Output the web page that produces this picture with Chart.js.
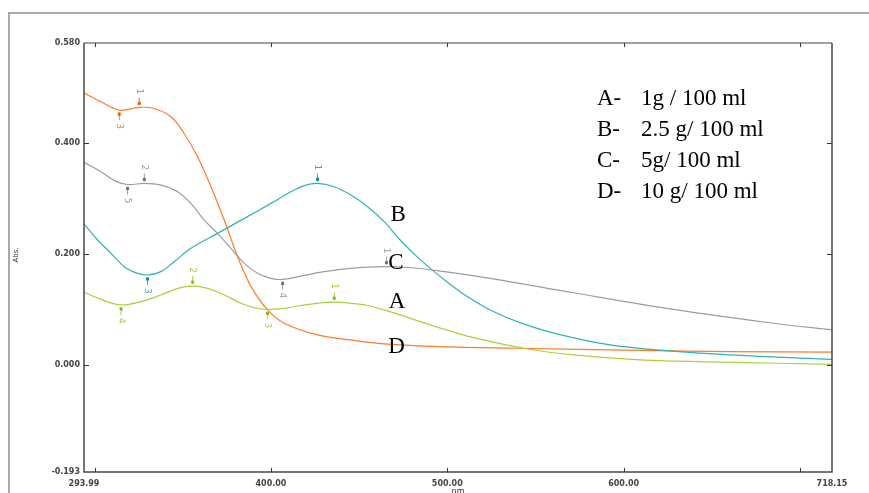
<!DOCTYPE html>
<html lang="en">
<head>
    <meta charset="UTF-8">
    <title>Absorbance spectra</title>
    <style>
        body {
            margin: 0;
            padding: 0;
            background: #fff;
        }
        canvas {
            display: block;
        }
    </style>
</head>
<body>
    <canvas id="spectra" width="869" height="493"></canvas>

    <script src="https://cdn.jsdelivr.net/npm/chart.js"></script>
    <script>
        // A - 1g / 100 ml (green)
        const waveA = [293.99, 303.6, 315, 326.3, 337.6, 347.1, 355.6, 364.1, 373.5, 383, 390.5, 398.1, 407.5, 417, 426.4, 435.9, 445.3, 454.8, 464.2, 473.3, 488.4, 501.7, 514.9, 543.2, 571.5, 609.4, 656.6, 718.15];
        const absA = [0.131, 0.118, 0.108, 0.114, 0.126, 0.138, 0.142, 0.138, 0.126, 0.111, 0.103, 0.100, 0.102, 0.107, 0.111, 0.113, 0.111, 0.107, 0.099, 0.090, 0.074, 0.061, 0.049, 0.030, 0.018, 0.009, 0.005, 0.001];

        // B - 2.5 g/ 100 ml (teal)
        const waveB = [293.99, 301.7, 309.3, 316.8, 324.4, 330, 337.6, 345.2, 354.6, 369.7, 384.9, 400, 411.3, 418.9, 426.4, 435.9, 445.3, 454.8, 464.2, 473.3, 482.8, 492.2, 501.7, 510, 524.3, 543.2, 562.1, 590.5, 618.8, 666, 718.15];
        const absB = [0.254, 0.225, 0.201, 0.177, 0.165, 0.162, 0.168, 0.186, 0.210, 0.237, 0.264, 0.291, 0.312, 0.323, 0.327, 0.321, 0.306, 0.285, 0.258, 0.225, 0.195, 0.169, 0.145, 0.126, 0.099, 0.074, 0.056, 0.037, 0.027, 0.017, 0.010];

        // C - 5g/ 100 ml (grey)
        const waveC = [293.99, 303.6, 311.2, 318.7, 328.2, 337.6, 347.1, 354.6, 362.2, 369.7, 377.3, 384.9, 392.4, 400, 406.6, 417, 430.2, 445.3, 464.2, 480, 496, 524.3, 571.5, 628.2, 684.9, 718.15];
        const absC = [0.365, 0.348, 0.332, 0.325, 0.327, 0.324, 0.312, 0.291, 0.261, 0.237, 0.210, 0.183, 0.165, 0.156, 0.154, 0.160, 0.168, 0.174, 0.177, 0.175, 0.169, 0.156, 0.130, 0.100, 0.075, 0.063];

        // D - 10 g/ 100 ml (orange)
        const waveD = [293.99, 303.6, 314, 325.3, 333.8, 343.3, 350.8, 358.4, 366, 373.5, 381.1, 388.7, 398.1, 407.5, 426.4, 445.3, 464.2, 496, 540, 609.4, 660, 718.15];
        const absD = [0.490, 0.474, 0.459, 0.464, 0.462, 0.447, 0.417, 0.375, 0.321, 0.261, 0.195, 0.141, 0.099, 0.075, 0.054, 0.045, 0.038, 0.033, 0.030, 0.026, 0.024, 0.023];

        // peak / valley picks: wavelength, absorbance, number, side (-1 above, 1 below)
        const pickWaveA = [435.9, 355.6, 398.1, 315];
        const pickAbsA = [0.113, 0.142, 0.100, 0.108];
        const pickNumA = ['1', '2', '3', '4'];
        const pickSideA = [-1, -1, 1, 1];

        const pickWaveB = [426.4, 330];
        const pickAbsB = [0.327, 0.162];
        const pickNumB = ['1', '3'];
        const pickSideB = [-1, 1];

        const pickWaveC = [465.5, 328.2, 406.6, 318.7];
        const pickAbsC = [0.177, 0.327, 0.154, 0.325];
        const pickNumC = ['1', '2', '4', '5'];
        const pickSideC = [-1, -1, 1, 1];

        const pickWaveD = [325.3, 314];
        const pickAbsD = [0.464, 0.459];
        const pickNumD = ['1', '3'];
        const pickSideD = [-1, 1];

        const xTicks = [293.99, 400, 500, 600, 718.15];
        const yTicks = [-0.193, 0, 0.2, 0.4, 0.58];
        const xMarks = [300, 400, 500, 600, 700];
        const yMarks = [0, 0.2, 0.4];

        const legendKeys = ['A-', 'B-', 'C-', 'D-'];
        const legendTexts = ['1g / 100 ml', '2.5 g/ 100 ml', '5g/ 100 ml', '10 g/ 100 ml'];

        // curve letters, anchored at wavelength / absorbance
        const curveLetters = ['A', 'B', 'C', 'D'];
        const letterWave = [471.5, 472.2, 470.9, 471.2];
        const letterAbs = [0.117, 0.274, 0.187, 0.036];

        const colorA = '#a9d13c';
        const colorB = '#31b2b2';
        const colorC = '#9c9c9c';
        const colorD = '#ff7b2c';

        function toPoints(xs, ys) {
            return xs.map((x, i) => ({ x: x, y: ys[i] }));
        }

        function lineSet(label, xs, ys, color) {
            return {
                label: label,
                data: toPoints(xs, ys),
                borderColor: color,
                borderWidth: 1.2,
                pointRadius: 0,
                tension: 0.35,
                fill: false
            };
        }

        const pickSets = [
            { wave: pickWaveA, abs: pickAbsA, num: pickNumA, side: pickSideA, color: colorA, dot: '#86b51a' },
            { wave: pickWaveB, abs: pickAbsB, num: pickNumB, side: pickSideB, color: colorB, dot: '#138e8e' },
            { wave: pickWaveC, abs: pickAbsC, num: pickNumC, side: pickSideC, color: colorC, dot: '#707070' },
            { wave: pickWaveD, abs: pickAbsD, num: pickNumD, side: pickSideD, color: colorD, dot: '#e85a00' }
        ];

        const decorPlugin = {
            id: 'decor',
            beforeDraw(chart) {
                const c = chart.ctx;
                c.save();
                c.fillStyle = '#fff';
                c.fillRect(0, 0, chart.width, chart.height);
                // outer page frame
                c.strokeStyle = '#a9a9a9';
                c.lineWidth = 2;
                c.strokeRect(9, 13, chart.width + 20, chart.height + 20);
                c.restore();
            },
            afterDraw(chart) {
                const c = chart.ctx;
                const a = chart.chartArea;
                const xs = chart.scales.x;
                const ys = chart.scales.y;
                c.save();

                // plot frame
                c.lineWidth = 2;
                c.strokeStyle = '#a0a0a0';
                c.beginPath();
                c.moveTo(a.left, a.top);
                c.lineTo(a.right, a.top);
                c.stroke();
                c.lineWidth = 1.5;
                c.strokeStyle = '#4a4a4a';
                c.beginPath();
                c.moveTo(a.left, a.top);
                c.lineTo(a.left, a.bottom);
                c.lineTo(a.right, a.bottom);
                c.lineTo(a.right, a.top);
                c.stroke();

                // inward tick marks
                c.lineWidth = 1;
                c.strokeStyle = '#333';
                c.beginPath();
                xMarks.forEach(v => {
                    const px = Math.round(xs.getPixelForValue(v)) + 0.5;
                    c.moveTo(px, a.bottom);
                    c.lineTo(px, a.bottom - 4);
                    c.moveTo(px, a.top);
                    c.lineTo(px, a.top + 4);
                });
                yMarks.forEach(v => {
                    const py = Math.round(ys.getPixelForValue(v)) + 0.5;
                    c.moveTo(a.left, py);
                    c.lineTo(a.left + 5, py);
                    c.moveTo(a.right, py);
                    c.lineTo(a.right - 5, py);
                });
                c.stroke();

                // axis titles
                c.fillStyle = '#333';
                c.font = '7px "DejaVu Sans"';
                c.textAlign = 'center';
                c.textBaseline = 'middle';
                c.save();
                c.translate(16, 255);
                c.rotate(-Math.PI / 2);
                c.fillText('Abs.', 0, 0);
                c.restore();
                c.font = '8px "DejaVu Sans"';
                c.fillText('nm', (a.left + a.right) / 2, 492);

                // peak picks
                c.font = '9px "DejaVu Sans"';
                pickSets.forEach(s => {
                    s.wave.forEach((w, i) => {
                        const px = xs.getPixelForValue(w);
                        const py = ys.getPixelForValue(s.abs[i]);
                        const d = s.side[i];
                        c.strokeStyle = s.color;
                        c.lineWidth = 1;
                        c.beginPath();
                        c.moveTo(px, py + d * 2);
                        c.lineTo(px, py + d * 10);
                        c.stroke();
                        c.fillStyle = s.dot;
                        c.fillRect(px - 1.5, py + d * 4 - 1.5, 3, 3);
                        c.fillStyle = s.color;
                        c.save();
                        c.translate(px, py + d * 16);
                        c.rotate(Math.PI / 2);
                        c.textAlign = 'center';
                        c.textBaseline = 'middle';
                        c.fillText(s.num[i], 0, 0);
                        c.restore();
                    });
                });

                // curve letters
                c.fillStyle = '#000';
                c.font = '23px "Liberation Serif"';
                c.textAlign = 'center';
                c.textBaseline = 'alphabetic';
                curveLetters.forEach((t, i) => {
                    c.fillText(t, xs.getPixelForValue(letterWave[i]), ys.getPixelForValue(letterAbs[i]) + 8);
                });

                // legend block
                c.textAlign = 'left';
                legendKeys.forEach((k, i) => {
                    const base = 105 + i * 31;
                    c.fillText(k, 597, base);
                    c.fillText(legendTexts[i], 641, base);
                });

                c.restore();
            }
        };

        const tickFont = { family: 'DejaVu Sans', size: 8, weight: 'bold' };

        const ctx = document.getElementById('spectra').getContext('2d');
        new Chart(ctx, {
            type: 'line',
            data: {
                datasets: [
                    lineSet('A', waveA, absA, colorA),
                    lineSet('C', waveC, absC, colorC),
                    lineSet('B', waveB, absB, colorB),
                    lineSet('D', waveD, absD, colorD)
                ]
            },
            options: {
                responsive: false,
                animation: false,
                layout: { padding: { top: 43, right: 37, left: 0, bottom: 0 } },
                plugins: {
                    legend: { display: false },
                    tooltip: { enabled: false }
                },
                scales: {
                    x: {
                        type: 'linear',
                        min: 293.99,
                        max: 718.15,
                        afterBuildTicks: s => { s.ticks = xTicks.map(v => ({ value: v })); },
                        afterFit: s => { s.height = 21; },
                        grid: { display: false, drawTicks: false },
                        border: { display: false },
                        ticks: {
                            autoSkip: false,
                            maxRotation: 0,
                            padding: 7,
                            color: '#444',
                            font: tickFont,
                            callback: v => Number(v).toFixed(2)
                        }
                    },
                    y: {
                        min: -0.193,
                        max: 0.58,
                        afterBuildTicks: s => { s.ticks = yTicks.map(v => ({ value: v })); },
                        afterFit: s => { s.width = 84; },
                        grid: { display: false, drawTicks: false },
                        border: { display: false },
                        ticks: {
                            autoSkip: false,
                            padding: 4,
                            color: '#444',
                            font: tickFont,
                            callback: v => Number(v).toFixed(3)
                        }
                    }
                }
            },
            plugins: [decorPlugin]
        });
    </script>
</body>
</html>
